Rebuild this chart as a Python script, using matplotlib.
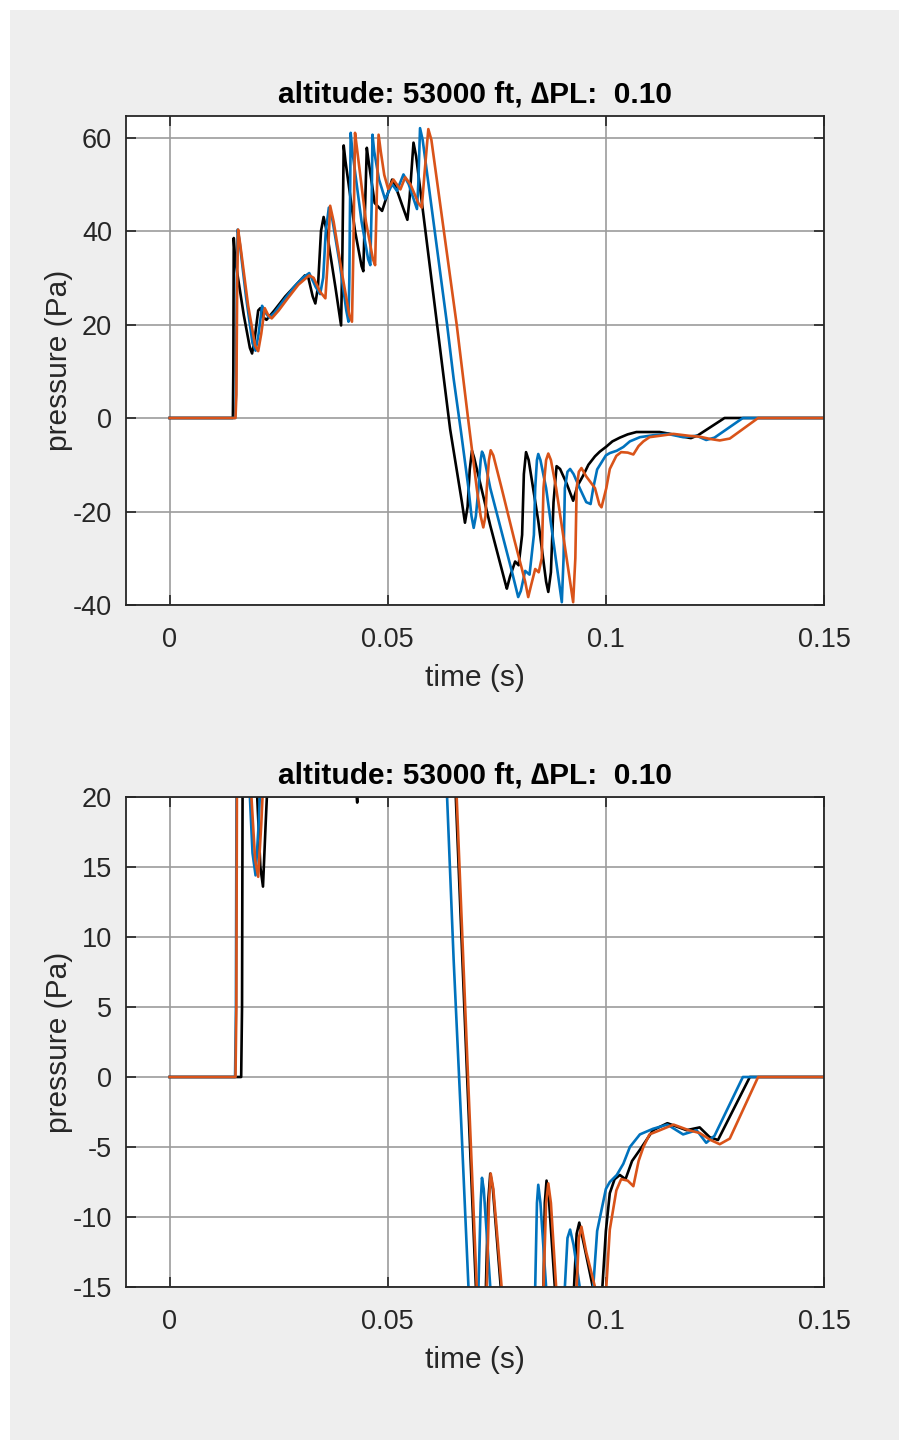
import matplotlib
matplotlib.use("Agg")
import matplotlib.pyplot as plt
from matplotlib.patches import Rectangle

plt.rcParams['font.family'] = ['Liberation Sans', 'DejaVu Sans']
plt.rcParams['axes.unicode_minus'] = False

# ---- data (time s, pressure Pa) ----
blue_t = [0.0, 0.0150, 0.0152, 0.0154, 0.0156, 0.0160, 0.0175, 0.0190, 0.0197, 0.0204,
          0.0212, 0.0220, 0.0228, 0.0240, 0.0260, 0.0285, 0.0305, 0.0320, 0.0335, 0.0345,
          0.0352, 0.0358, 0.0365, 0.0372, 0.0390, 0.0405, 0.0410, 0.0412, 0.0415, 0.0419,
          0.0440, 0.0455, 0.0460, 0.0463, 0.0465, 0.0469, 0.0480, 0.0494, 0.0510, 0.0521,
          0.0536, 0.0548, 0.0567, 0.0570, 0.0574, 0.0580, 0.0636, 0.0651, 0.0668, 0.0685,
          0.0692, 0.0697, 0.0702, 0.0708, 0.0713, 0.0716, 0.0720, 0.0735, 0.0760, 0.0785,
          0.0799, 0.0805, 0.0815, 0.0825, 0.0835, 0.0838, 0.0842, 0.0845, 0.0850, 0.0863,
          0.0885, 0.0899, 0.0903, 0.0906, 0.0912, 0.0918, 0.0926, 0.0940, 0.0955, 0.0965,
          0.0971, 0.0980, 0.0990, 0.1000, 0.1009, 0.1025, 0.1040, 0.1055, 0.1078, 0.1108,
          0.1141, 0.1177, 0.1208, 0.1230, 0.1249, 0.1314, 0.1500]
blue_p = [0, 0, 5, 30, 40.3, 38, 26, 16, 14.4, 18,
          24, 22.5, 21.5, 22.5, 25, 28, 30, 31, 28, 26.5,
          30, 40, 45, 43, 33, 23, 20.6, 30, 61, 57,
          42, 34, 32.7, 45, 60.6, 57, 51, 46.8, 50, 48.6,
          52.1, 50, 44.7, 50, 62, 59.5, 20, 8.4, -3, -15,
          -21, -23.5, -21, -15, -9, -7.2, -8, -15, -24, -33,
          -38.3, -37, -32.7, -33.5, -25, -15, -9, -7.7, -9, -15,
          -30, -39.4, -30, -15, -11.5, -10.9, -12, -15, -18, -18.4,
          -15, -11, -9.5, -8, -7.5, -7.0, -6.2, -5, -4.1, -3.7,
          -3.4, -4.1, -3.8, -4.7, -4.2, 0, 0]

orange_t = [0.0, 0.0151, 0.0153, 0.0155, 0.0157, 0.0162, 0.0180, 0.0196, 0.0203, 0.0210,
            0.0218, 0.0226, 0.0234, 0.0250, 0.0270, 0.0295, 0.0320, 0.0330, 0.0345, 0.0357,
            0.0362, 0.0368, 0.0376, 0.0395, 0.0412, 0.0418, 0.0421, 0.0425, 0.0429, 0.0450,
            0.0466, 0.0471, 0.0475, 0.0479, 0.0484, 0.0492, 0.0501, 0.0513, 0.0529, 0.0540,
            0.0552, 0.0570, 0.0578, 0.0584, 0.0593, 0.0600, 0.0658, 0.0684, 0.0704, 0.0713,
            0.0719, 0.0724, 0.0727, 0.0732, 0.0736, 0.0742, 0.0761, 0.0790, 0.0815, 0.0822,
            0.0828, 0.0838, 0.0846, 0.0853, 0.0857, 0.0863, 0.0868, 0.0874, 0.0886, 0.0910,
            0.0925, 0.0930, 0.0933, 0.0938, 0.0944, 0.0955, 0.0975, 0.0985, 0.0990, 0.1001,
            0.1009, 0.1024, 0.1035, 0.1050, 0.1063, 0.1075, 0.1086, 0.1100, 0.1124, 0.1155,
            0.1190, 0.1215, 0.1240, 0.1261, 0.1284, 0.1349, 0.1500]
orange_p = [0, 0, 5, 30, 40.3, 37, 24, 15.5, 14.3, 18,
            23.5, 22, 21.3, 23, 25.5, 28.5, 30.5, 30, 27, 25.6,
            33, 45.4, 42, 31, 22, 20.6, 35, 61, 58, 42,
            34, 32.7, 48, 60.6, 57, 52, 49, 51, 48.9, 51.5,
            50, 46, 45, 52, 61.8, 59.5, 20, 0, -15, -21,
            -23.4, -21, -15, -9, -6.9, -8, -15, -26, -35, -38.3,
            -36, -32.3, -33, -30, -15, -9, -7.6, -9, -15, -30,
            -39.4, -30, -15, -11.5, -10.7, -12.5, -15, -18.5, -19.1, -15,
            -10.9, -8.1, -7.3, -7.4, -7.8, -6, -5, -4.1, -3.8, -3.4,
            -3.8, -4.0, -4.5, -4.8, -4.4, 0, 0]

black_top_t = [0.0, 0.0145, 0.0146, 0.0147, 0.0150, 0.0170, 0.0184, 0.0189, 0.0195, 0.0203,
               0.0208, 0.0215, 0.0222, 0.0240, 0.0265, 0.0290, 0.0310, 0.0318, 0.0328, 0.0334,
               0.0340, 0.0347, 0.0353, 0.0360, 0.0380, 0.0393, 0.0396, 0.0399, 0.0403, 0.0425,
               0.0440, 0.0444, 0.0448, 0.0452, 0.0456, 0.0470, 0.0487, 0.0500, 0.0510, 0.0520,
               0.0535, 0.0545, 0.0550, 0.0559, 0.0565, 0.0643, 0.0670, 0.0677, 0.0683, 0.0688,
               0.0693, 0.0698, 0.0735, 0.0770, 0.0773, 0.0780, 0.0792, 0.0800, 0.0808, 0.0812,
               0.0817, 0.0823, 0.0845, 0.0863, 0.0868, 0.0874, 0.0880, 0.0887, 0.0895, 0.0910,
               0.0925, 0.0935, 0.0948, 0.0960, 0.0975, 0.0986, 0.1000, 0.1015, 0.1032, 0.1050,
               0.1070, 0.1123, 0.1160, 0.1177, 0.1195, 0.1211, 0.1272, 0.1500]
black_top_p = [0, 0, 10, 38.5, 34, 22, 15, 13.8, 17, 23,
               23.5, 21.5, 21, 23, 26, 28.5, 30.5, 30, 26, 24.5,
               28, 40, 43, 40, 28, 19.8, 35, 58.3, 55, 40,
               32.5, 31.4, 45, 57.8, 55, 46, 44.3, 48, 51, 49,
               45, 42.4, 47, 58.9, 56, -2.4, -18, -22.4, -19, -11,
               -7, -8.5, -23, -35.5, -36.5, -34, -30.7, -31.5, -25, -12,
               -7.3, -9, -22, -35, -37.2, -33, -18, -10.3, -10.9, -14,
               -17.7, -14.5, -12.3, -10, -8.2, -7.2, -6.2, -5, -4.2, -3.5,
               -3.0, -3.0, -3.6, -4.0, -4.3, -3.7, 0, 0]

black_bot_t = [0.0, 0.0164, 0.0166, 0.0168, 0.0170, 0.0175, 0.0195, 0.0208, 0.0214, 0.0220,
               0.0228, 0.0236, 0.0245, 0.0330, 0.0370, 0.0380, 0.0425, 0.0430, 0.0436, 0.0500,
               0.0590, 0.0598, 0.0656, 0.0682, 0.0702, 0.0711, 0.0717, 0.0722, 0.0725, 0.0730,
               0.0735, 0.0741, 0.0759, 0.0788, 0.0812, 0.0819, 0.0825, 0.0835, 0.0843, 0.0850,
               0.0857, 0.0860, 0.0864, 0.0870, 0.0883, 0.0905, 0.0918, 0.0923, 0.0927, 0.0933,
               0.0939, 0.0950, 0.0970, 0.0980, 0.0985, 0.0992, 0.1000, 0.1009, 0.1020, 0.1032,
               0.1045, 0.1060, 0.1078, 0.1108, 0.1141, 0.1185, 0.1215, 0.1238, 0.1257, 0.1330,
               0.1500]
black_bot_p = [0, 0, 5, 30, 40, 37, 24, 15, 13.6, 18,
               23.5, 22, 21.3, 30, 26, 44, 22, 19.6, 60, 48,
               61.5, 59.5, 20, 0, -15, -21, -23.4, -21, -15, -9,
               -6.9, -8, -15, -26, -35, -38, -36, -32.3, -33, -30,
               -15, -9, -7.4, -9, -15, -30, -39, -30, -15, -11.2,
               -10.4, -12, -15, -18, -18.3, -15, -11, -8.3, -7.3, -7,
               -7.3, -6, -5.2, -3.8, -3.3, -3.8, -3.6, -4.3, -4.5, 0,
               0]

title = 'altitude: 53000 ft, \u2206PL:  0.10'
x_ticks = [0, 0.05, 0.1, 0.15]
x_labels = ['0', '0.05', '0.1', '0.15']
top_yticks = [-40, -20, 0, 20, 40, 60]
bot_yticks = [-15, -10, -5, 0, 5, 10, 15, 20]

BLUE = '#0072BD'
ORANGE = '#D95319'
LW = 1.9


def style_axes(ax, ylim, yticks):
    ax.set_facecolor('white')
    ax.set_xlim(-0.01, 0.15)
    ax.set_ylim(*ylim)
    ax.set_xticks(x_ticks)
    ax.set_xticklabels(x_labels)
    ax.set_yticks(yticks)
    ax.grid(True, color='#9c9c9c', linewidth=1.2)
    ax.set_axisbelow(True)
    ax.tick_params(direction='in', length=7, width=1.2, top=True, right=True,
                   labelsize=19.5, colors='#262626')
    ax.tick_params(axis='x', pad=16)
    ax.tick_params(axis='y', pad=10)
    for s in ax.spines.values():
        s.set_color('#262626')
        s.set_linewidth(1.3)
    ax.set_title(title, fontsize=21.5, fontweight='bold', pad=10)
    ax.set_xlabel('time (s)', fontsize=21.5, color='#262626', labelpad=8)
    ax.set_ylabel('pressure (Pa)', fontsize=21.5, color='#262626', labelpad=0)


fig = plt.figure(figsize=(8.99, 14.4), dpi=100, facecolor='white')
fig.patches.append(Rectangle((10 / 899, 0), 1, 1 - 10 / 1440, transform=fig.transFigure,
                             facecolor='#eeeeee', edgecolor='none', zorder=-10))

ax1 = fig.add_axes([126 / 899, 1 - 605 / 1440, 698 / 899, 489 / 1440])
ax1.plot(black_top_t, black_top_p, color='k', lw=LW)
ax1.plot(blue_t, blue_p, color=BLUE, lw=LW)
ax1.plot(orange_t, orange_p, color=ORANGE, lw=LW)
style_axes(ax1, (-40, 64.6), top_yticks)

ax2 = fig.add_axes([126 / 899, 1 - 1287 / 1440, 698 / 899, 490 / 1440])
ax2.plot(black_bot_t, black_bot_p, color='k', lw=LW)
ax2.plot(blue_t, blue_p, color=BLUE, lw=LW)
ax2.plot(orange_t, orange_p, color=ORANGE, lw=LW)
style_axes(ax2, (-15, 20), bot_yticks)

fig.savefig('out.png', dpi=100)
